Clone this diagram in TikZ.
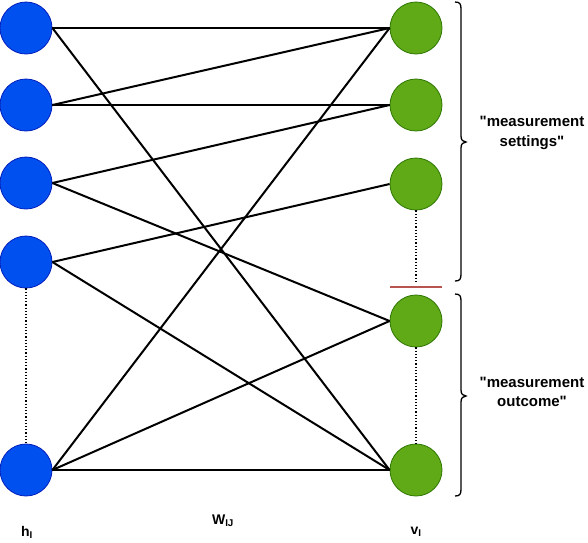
\documentclass[tikz,border=0pt]{standalone}
\usepackage{fontspec}
\setmainfont{Liberation Sans}[Ligatures=TeXOff]
\begin{document}
\begin{tikzpicture}[x=1pt,y=-1pt,
  hnode/.style={circle,draw=blueStroke,fill=blueFill,minimum size=52pt,inner sep=0pt,line width=0.8pt},
  vnode/.style={circle,draw=greenStroke,fill=greenFill,minimum size=52pt,inner sep=0pt,line width=0.8pt},
  edge/.style={line width=2pt,black},
  dots/.style={line width=1.2pt,dotted,black},
  brace/.style={line width=1.3pt,black},
  lbl/.style={font=\bfseries\fontsize{14}{16}\selectfont,inner sep=0pt},
  txt/.style={font=\bfseries\fontsize{15}{19.5}\selectfont,align=center,inner sep=0pt}]
\definecolor{blueFill}{HTML}{0050EF}
\definecolor{blueStroke}{HTML}{001DBC}
\definecolor{greenFill}{HTML}{60A917}
\definecolor{greenStroke}{HTML}{2D7600}
\definecolor{redLine}{HTML}{B85450}
\useasboundingbox (0,0) rectangle (588,542);
% hidden nodes
\node[hnode] (h1) at (26,28) {};
\node[hnode] (h2) at (26,105) {};
\node[hnode] (h3) at (26,183) {};
\node[hnode] (h4) at (26,262) {};
\node[hnode] (h5) at (26,470) {};
% visible nodes
\node[vnode] (v1) at (416,28) {};
\node[vnode] (v2) at (416,105) {};
\node[vnode] (v3) at (416,184) {};
\node[vnode] (v4) at (416,321) {};
\node[vnode] (v5) at (416,470) {};
% edges
\draw[edge] (h1.east) -- (v1.west);
\draw[edge] (h1.east) -- (v5.west);
\draw[edge] (h2.east) -- (v1.west);
\draw[edge] (h2.east) -- (v2.west);
\draw[edge] (h3.east) -- (v2.west);
\draw[edge] (h3.east) -- (v4.west);
\draw[edge] (h4.east) -- (v3.west);
\draw[edge] (h4.east) -- (v5.west);
\draw[edge] (h5.east) -- (v1.west);
\draw[edge] (h5.east) -- (v4.west);
\draw[edge] (h5.east) -- (v5.west);
% dotted
\coordinate (sep) at (416,283);
\draw[dots] (h4.south) -- (h5.north);
\draw[dots] (v3.south) -- (sep);
\draw[dots] (v4.south) -- (v5.north);
% red separator
\coordinate (rl) at (390,287);
\coordinate (rr) at (442,287);
\draw[redLine,line width=1.8pt] (rl) -- (rr);
% braces
\draw[brace] (455,2) .. controls (460,2) and (461,4) .. (461,9) -- (461,136)
  .. controls (461,140) and (463,142) .. (466,142)
  .. controls (463,142) and (461,144) .. (461,148) -- (461,274)
  .. controls (461,279) and (460,281) .. (455,281);
\draw[brace] (455,294) .. controls (460,294) and (461,296) .. (461,301) -- (461,390)
  .. controls (461,394) and (463,396) .. (466,396)
  .. controls (463,396) and (461,398) .. (461,402) -- (461,489)
  .. controls (461,494) and (460,496) .. (455,496);
% texts
\node[txt] (t1) at (532,133) {"measurement\\settings"};
\node[txt] (t2) at (532,392) {"measurement\\outcome"};
\node[lbl] (lh) at (27,532) {h\textsubscript{I}};
\node[lbl] (lw) at (223,521) {W\textsubscript{IJ}};
\node[lbl] (lv) at (416,532) {v\textsubscript{I}};
\end{tikzpicture}
\end{document}
